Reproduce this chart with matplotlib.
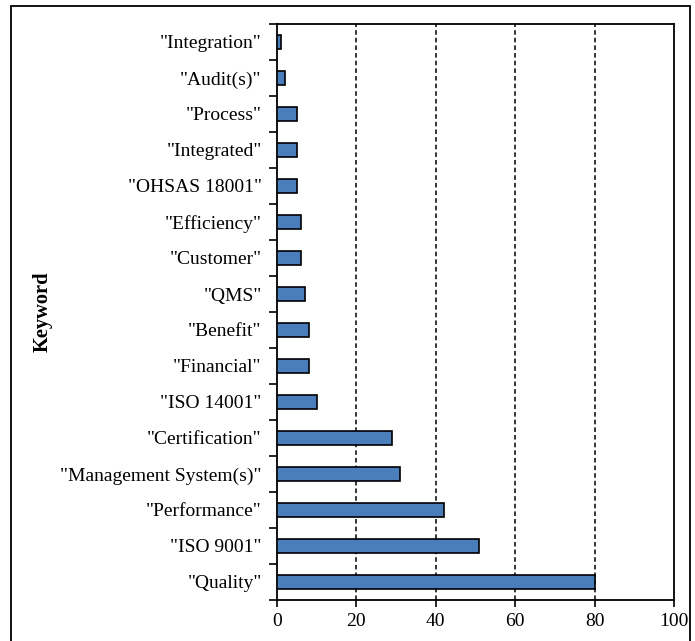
import matplotlib
matplotlib.use("Agg")
import matplotlib.pyplot as plt
import numpy as np
from matplotlib.patches import Rectangle

categories = ['"Quality"', '"ISO 9001"', '"Performance"', '"Management System(s)"',
              '"Certification"', '"ISO 14001"', '"Financial"', '"Benefit"', '"QMS"',
              '"Customer"', '"Efficiency"', '"OHSAS 18001"', '"Integrated"', '"Process"',
              '"Audit(s)"', '"Integration"']
values = [80, 51, 42, 31, 29, 10, 8, 8, 7, 6, 6, 5, 5, 5, 2, 1]
xticks = [0, 20, 40, 60, 80, 100]

plt.rcParams['font.family'] = ['Liberation Serif', 'DejaVu Serif']

fig = plt.figure(figsize=(6.95, 6.41), dpi=100)
ax = fig.add_axes([277/695, 1-600/641, (674-277)/695, (600-24)/641])

y = np.arange(len(categories))
ax.barh(y, values, height=0.4, color='#4a7ebb', edgecolor='black', linewidth=1.2, zorder=3)

ax.set_xlim(0, 100)
ax.set_ylim(-0.5, len(categories) - 0.5)
ax.set_xticks(xticks)
ax.set_xticklabels([str(t) for t in xticks], fontsize=14)
ax.set_yticks(np.arange(-0.5, len(categories), 1.0))
ax.set_yticklabels([])
ax.set_yticks(y, minor=True)
ax.set_yticklabels(categories, minor=True, fontsize=14)
ax.tick_params(axis='y', which='major', direction='out', length=6, width=1.2)
ax.tick_params(axis='y', which='minor', length=0, pad=11)
ax.tick_params(axis='x', direction='out', length=5, width=1.2, pad=4)

for gx in xticks[1:-1]:
    ax.axvline(gx, color='black', linestyle=(0, (3, 2)), linewidth=1.1, zorder=1)

for s in ax.spines.values():
    s.set_linewidth(1.3)

fig.text(43/695, 1-312/641, 'Keyword', rotation=90, fontsize=14.7, fontweight='bold',
         ha='center', va='center')

fig.patches.append(Rectangle((11/695, -0.05), (690-11)/695, 1-6/641+0.05,
                             transform=fig.transFigure, fill=False,
                             edgecolor='black', linewidth=1.3))

fig.savefig('out.png', dpi=100)
